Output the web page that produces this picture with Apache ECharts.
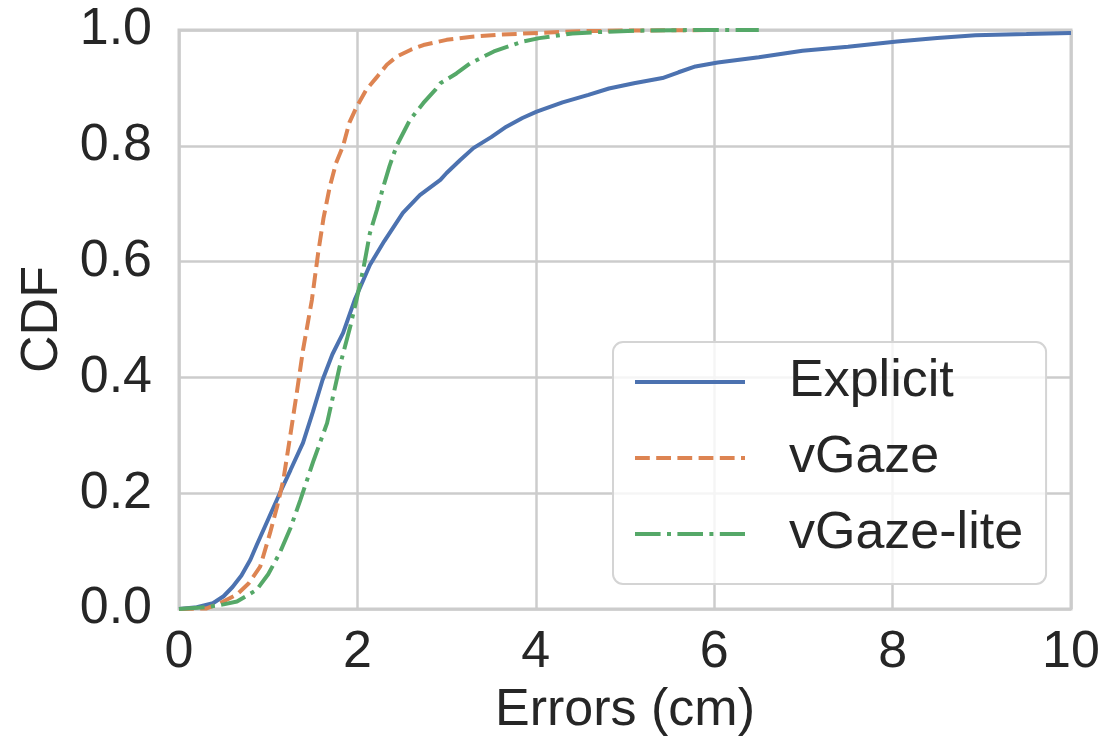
<!DOCTYPE html>
<html>
<head>
<meta charset="utf-8">
<script src="https://cdn.jsdelivr.net/npm/echarts@6/dist/echarts.min.js"></script>
<style>
  html, body { margin: 0; padding: 0; background: #fff; }
  #main { width: 1108px; height: 744px; }
</style>
</head>
<body>
<div id="main"></div>
<script>
// CDF points
const explicitX = [0, 0.2, 0.38, 0.5, 0.6, 0.7, 0.8, 0.87, 1.0, 1.13, 1.25, 1.39, 1.5, 1.61, 1.72, 1.84, 1.97, 2.14, 2.3, 2.51, 2.7, 2.93, 3.0, 3.15, 3.3, 3.5, 3.67, 3.85, 4.01, 4.3, 4.59, 4.82, 5.1, 5.42, 5.6, 5.79, 6.04, 6.5, 6.99, 7.5, 8.05, 8.5, 8.93, 9.5, 10];
const explicitY = [0, 0.003, 0.01, 0.022, 0.038, 0.058, 0.085, 0.11, 0.155, 0.2, 0.24, 0.287, 0.34, 0.396, 0.44, 0.477, 0.534, 0.594, 0.635, 0.684, 0.715, 0.741, 0.753, 0.775, 0.796, 0.815, 0.833, 0.848, 0.859, 0.875, 0.888, 0.899, 0.908, 0.917, 0.927, 0.937, 0.944, 0.953, 0.964, 0.971, 0.980, 0.986, 0.991, 0.993, 0.995];

const vgazeX = [0, 0.31, 0.46, 0.65, 0.78, 0.91, 1.02, 1.10, 1.17, 1.24, 1.32, 1.39, 1.49, 1.56, 1.62, 1.69, 1.76, 1.84, 1.91, 1.99, 2.1, 2.22, 2.33, 2.44, 2.6, 2.74, 3.0, 3.26, 3.6, 4.04, 4.5, 5.0, 6.0];
const vgazeY = [0, 0.001, 0.01, 0.025, 0.044, 0.073, 0.131, 0.177, 0.223, 0.292, 0.373, 0.447, 0.534, 0.615, 0.675, 0.729, 0.77, 0.8, 0.84, 0.867, 0.897, 0.919, 0.94, 0.954, 0.966, 0.974, 0.983, 0.988, 0.992, 0.995, 0.998, 0.999, 1.0];

const liteX = [0, 0.3, 0.5, 0.65, 0.87, 1.0, 1.13, 1.25, 1.36, 1.51, 1.66, 1.80, 1.92, 1.99, 2.07, 2.14, 2.22, 2.29, 2.36, 2.44, 2.59, 2.74, 2.87, 2.93, 3.11, 3.26, 3.53, 3.85, 4.04, 4.41, 4.78, 5.2, 5.8, 6.5];
const liteY = [0, 0.003, 0.008, 0.013, 0.033, 0.06, 0.097, 0.14, 0.188, 0.257, 0.321, 0.418, 0.488, 0.534, 0.59, 0.649, 0.69, 0.729, 0.765, 0.8, 0.845, 0.874, 0.896, 0.908, 0.925, 0.942, 0.963, 0.980, 0.986, 0.994, 0.997, 0.999, 1.0, 1.0];

const seriesNames = ['Explicit', 'vGaze', 'vGaze-lite'];
const xTicks = [0, 2, 4, 6, 8, 10];
const yTicks = [0, 0.2, 0.4, 0.6, 0.8, 1.0];

const zip = (xs, ys) => xs.map((x, i) => [x, ys[i]]);
const FONT = '"Liberation Sans", Arial, sans-serif';
const TEXT = '#262626';
const GRID = '#cccccc';
const LW = 4;

let chart = echarts.init(document.getElementById('main'));
chart.setOption({
  animation: false,
  textStyle: { fontFamily: FONT, color: TEXT },
  grid: {
    left: 179, right: 37, top: 30, bottom: 135,
    show: true, borderColor: GRID, borderWidth: 3
  },
  xAxis: {
    type: 'value',
    min: xTicks[0], max: xTicks[xTicks.length - 1], interval: 2,
    name: 'Errors (cm)', nameLocation: 'middle', nameGap: 76,
    nameTextStyle: { fontSize: 52, color: TEXT, fontFamily: FONT },
    axisLine: { show: false }, axisTick: { show: false },
    axisLabel: { fontSize: 52, color: TEXT, margin: 18, fontFamily: FONT },
    splitLine: { lineStyle: { color: GRID, width: 2.5 } }
  },
  yAxis: {
    type: 'value',
    min: yTicks[0], max: yTicks[yTicks.length - 1], interval: 0.2,
    name: 'CDF', nameLocation: 'middle', nameGap: 105,
    nameTextStyle: { fontSize: 52, color: TEXT, fontFamily: FONT },
    axisLine: { show: false }, axisTick: { show: false },
    axisLabel: { fontSize: 52, color: TEXT, margin: 27, fontFamily: FONT,
      formatter: v => v.toFixed(1) },
    splitLine: { lineStyle: { color: GRID, width: 2.5 } }
  },
  legend: {
    left: 613, top: 342,
    orient: 'vertical',
    padding: [14, 23, 24, 20],
    itemWidth: 110, itemHeight: 14, itemGap: 24,
    itemStyle: { opacity: 0 },
    lineStyle: { width: LW },
    backgroundColor: 'rgba(255,255,255,0.8)',
    borderColor: '#d4d4d4', borderWidth: 2, borderRadius: 10,
    textStyle: { fontSize: 52, color: TEXT, fontFamily: FONT, lineHeight: 52, padding: [0, 0, 0, 39] },
    data: seriesNames
  },
  series: [
    {
      name: seriesNames[0], type: 'line', showSymbol: false, symbol: 'none',
      data: zip(explicitX, explicitY),
      lineStyle: { color: '#4C72B0', width: LW }, itemStyle: { color: '#4C72B0' }
    },
    {
      name: seriesNames[1], type: 'line', showSymbol: false, symbol: 'none',
      data: zip(vgazeX, vgazeY),
      lineStyle: { color: '#DD8452', width: LW, type: [14.8, 6.4] }, itemStyle: { color: '#DD8452' }
    },
    {
      name: seriesNames[2], type: 'line', showSymbol: false, symbol: 'none',
      data: zip(liteX, liteY),
      lineStyle: { color: '#55A868', width: LW, type: [25.6, 6.4, 4, 6.4] }, itemStyle: { color: '#55A868' }
    }
  ]
});
</script>
</body>
</html>
